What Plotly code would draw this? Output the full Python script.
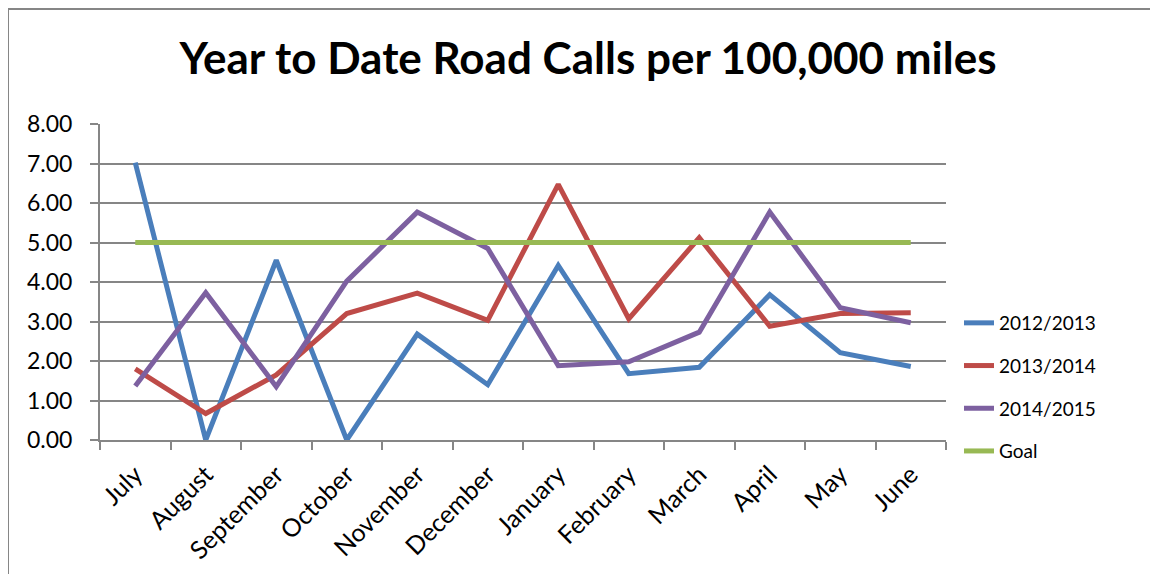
import plotly.graph_objects as go

months = ["July", "August", "September", "October", "November", "December",
          "January", "February", "March", "April", "May", "June"]
s2012 = [7.02, 0.00, 4.55, 0.00, 2.68, 1.40, 4.42, 1.68, 1.84, 3.68, 2.21, 1.86]
s2013 = [1.80, 0.67, 1.65, 3.20, 3.72, 3.03, 6.47, 3.07, 5.12, 2.88, 3.20, 3.22]
s2014 = [1.37, 3.73, 1.35, 4.02, 5.77, 4.85, 1.88, 1.98, 2.73, 5.77, 3.35, 2.97]
goal = [5.00] * 12

series = [
    ("2012/2013", s2012, "#4A7EBB"),
    ("2013/2014", s2013, "#BE4B48"),
    ("2014/2015", s2014, "#7D60A0"),
    ("Goal", goal, "#98B954"),
]

FONT = "Lato"

fig = go.Figure()
for i, (name, vals, col) in enumerate(series):
    fig.add_trace(go.Scatter(
        x=months, y=vals, name=name, mode="lines",
        line=dict(color=col, width=5),
        legendgroup=f"g{i}",
    ))

# page offset of 8px (body margin) is removed from all positions
OFF = 8
W, H = 1158 - OFF, 574 - OFF
PL, PR, PT, PB = 100 - OFF, 946 - OFF, 124 - OFF, 440 - OFF
L, R, T, B = PL, W - PR, PT, H - PB
PW, PH = PR - PL, PB - PT

def px(x):
    return (x - OFF - PL) / PW

def py(y):
    return (PB - (y - OFF)) / PH

fig.update_layout(
    width=W, height=H,
    margin=dict(l=L, r=R, t=T, b=B, autoexpand=False),
    paper_bgcolor="white", plot_bgcolor="white",
    font=dict(family=FONT, color="black"),
    title=dict(
        text="<b>Year to Date Road Calls per 100,000 miles</b>",
        font=dict(family=FONT, size=44, color="black"),
        x=(588 - OFF) / W, xref="container", xanchor="center",
        y=1 - (59 - OFF) / H, yref="container", yanchor="middle",
    ),
    showlegend=True,
    legend=dict(
        x=px(959), xanchor="left",
        y=py(304), yanchor="top",
        font=dict(family=FONT, size=19, color="black"),
        tracegroupgap=15,
        bgcolor="rgba(0,0,0,0)",
    ),
    xaxis=dict(
        type="category",
        tickangle=-45,
        tickfont=dict(family=FONT, size=25, color="black"),
        ticklabelstandoff=8,
        showline=True, linecolor="#868686", linewidth=2,
        ticks="outside", tickson="boundaries", ticklen=8, tickwidth=2, tickcolor="#868686",
        showgrid=False,
        range=[-0.5, 11.5],
    ),
    yaxis=dict(
        range=[0, 8], dtick=1, tickformat=".2f",
        tickfont=dict(family=FONT, size=23, color="black"),
        ticklabelstandoff=13,
        showline=True, linecolor="#868686", linewidth=2,
        ticks="outside", ticklen=8, tickwidth=2, tickcolor="#868686",
        showgrid=True, gridcolor="#868686", gridwidth=2,
        zeroline=False,
    ),
    shapes=[dict(
        type="rect", xref="paper", yref="paper",
        x0=px(8), x1=px(1175),
        y0=py(590), y1=py(9),
        line=dict(color="#868686", width=2), fillcolor="rgba(0,0,0,0)",
        layer="below",
    )],
)

fig.write_html("out.html")
